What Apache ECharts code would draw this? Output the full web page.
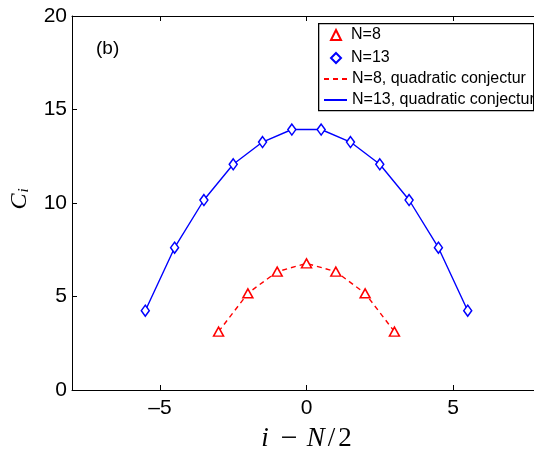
<!DOCTYPE html>
<html><head><meta charset="utf-8">
<script src="https://cdn.jsdelivr.net/npm/echarts@6/dist/echarts.min.js"></script>
<style>html,body{margin:0;padding:0;background:#fff}#c{width:534px;height:450px}</style>
</head><body><div id="c"></div>
<script>
// N=8 data (markers)
const xN8 = [-3, -2, -1, 0, 1, 2, 3];
const yN8 = [3.12, 5.17, 6.33, 6.77, 6.33, 5.17, 3.12];
// N=13 data (markers)
const xN13 = [-5.5, -4.5, -3.5, -2.5, -1.5, -0.5, 0.5, 1.5, 2.5, 3.5, 4.5, 5.5];
const yN13 = [4.24, 7.61, 10.16, 12.07, 13.26, 13.93, 13.93, 13.26, 12.07, 10.16, 7.61, 4.24];
// quadratic conjecture curves
const qN8 = [3.12, 5.17, 6.33, 6.77, 6.33, 5.17, 3.12];
const qN13 = [4.24, 7.61, 10.16, 12.07, 13.26, 13.93, 13.93, 13.26, 12.07, 10.16, 7.61, 4.24];
// ticks
const xTicks = [-5, 0, 5];
const yTicks = [0, 5, 10, 15, 20];
const markerNames = ['N=8', 'N=13'];
const lineNames = ['N=8, quadratic conjectur', 'N=13, quadratic conjectur'];

const zip = (xs, ys) => xs.map((x, i) => [x, ys[i]]);
const SANS = 'Liberation Sans, Arial, sans-serif';
const SERIF = 'Liberation Serif, Times New Roman, serif';

const chart = echarts.init(document.getElementById('c'), null, {renderer: 'canvas'});
const axisLine = {show: true, onZero: false, lineStyle: {color: '#000', width: 1}};
const fmt = v => String(v).replace('-', '\u2013');
const tickStyle = {color: '#000', width: 1};

chart.setOption({
  animation: false,
  backgroundColor: '#fff',
  grid: {left: 72, top: 16, right: -7, bottom: 60, containLabel: false, outerBoundsMode: 'none'},
  xAxis: [{
    type: 'value', min: -8, max: 8, position: 'bottom',
    axisLine, splitLine: {show: false},
    axisTick: {inside: true, length: 5, customValues: xTicks, lineStyle: tickStyle},
    axisLabel: {customValues: xTicks, color: '#000', fontSize: 21, fontFamily: SANS, margin: 8, formatter: fmt},
    name: '{i|i}{m|\u2212}{n|N}{s|/}{t|2}', nameLocation: 'middle', nameGap: 28,
    nameTextStyle: {
      rich: {
        i: {fontFamily: SERIF, fontStyle: 'italic', fontSize: 27, color: '#000'},
        m: {fontFamily: SERIF, fontSize: 30, color: '#000', padding: [0, 7, 0, 12]},
        n: {fontFamily: SERIF, fontStyle: 'italic', fontSize: 27, color: '#000', padding: [0, 0, 0, 2]},
        s: {fontFamily: SERIF, fontSize: 27, color: '#000', padding: [0, 0, 0, 3]},
        t: {fontFamily: SERIF, fontSize: 27, color: '#000', padding: [0, 0, 0, 3]}
      }
    }
  }, {
    type: 'value', min: -8, max: 8, position: 'top',
    axisLine, splitLine: {show: false},
    axisTick: {inside: true, length: 5, customValues: xTicks, lineStyle: tickStyle},
    axisLabel: {show: false}
  }],
  yAxis: [{
    type: 'value', min: 0, max: 20, interval: 5, position: 'left',
    axisLine, splitLine: {show: false},
    axisTick: {inside: true, length: 5, lineStyle: tickStyle},
    axisLabel: {color: '#000', fontSize: 21, fontFamily: SANS, margin: 5, formatter: fmt},
    name: '{c|C}{s|i}', nameLocation: 'middle', nameGap: 40, nameRotate: 90,
    nameTextStyle: {
      rich: {
        c: {fontFamily: SERIF, fontStyle: 'italic', fontSize: 24, color: '#000', padding: [0, 0, 0, 8]},
        s: {fontFamily: SERIF, fontStyle: 'italic', fontSize: 15, color: '#000', padding: [9, 0, 0, 1]}
      }
    }
  }, {
    type: 'value', min: 0, max: 20, interval: 5, position: 'right',
    axisLine, splitLine: {show: false},
    axisTick: {inside: true, length: 5, lineStyle: tickStyle},
    axisLabel: {show: false}
  }],
  legend: [{
    data: markerNames,
    orient: 'vertical', left: 330, top: 27,
    itemWidth: 10, itemHeight: 10, itemGap: 7,
    padding: 0,
    textStyle: {color: '#000', fontSize: 16, fontFamily: SANS, padding: [0, 0, 0, 5]},
    selectedMode: false
  }, {
    data: lineNames.map(n => ({name: n, itemStyle: {opacity: 0}})),
    orient: 'vertical', left: 323, top: 71,
    itemWidth: 23, itemHeight: 14, itemGap: 5,
    padding: 0,
    textStyle: {color: '#000', fontSize: 16, fontFamily: SANS},
    selectedMode: false
  }],
  graphic: [{
    type: 'rect', left: 318, top: 23, z: -1,
    shape: {width: 215, height: 87},
    style: {fill: '#fff', stroke: '#000', lineWidth: 1.3}
  }, {
    type: 'text', left: 96, top: 39,
    style: {text: '(b)', font: '19px ' + SANS, fill: '#000'}
  }],
  series: [{
    name: lineNames[0], type: 'line', data: zip(xN8, qN8),
    symbol: 'none', z: 2,
    lineStyle: {color: '#ff0000', width: 1.4, type: [5, 4]},
    itemStyle: {color: '#ff0000'}
  }, {
    name: lineNames[1], type: 'line', data: zip(xN13, qN13),
    symbol: 'none', z: 2,
    lineStyle: {color: '#0000ff', width: 1.4},
    itemStyle: {color: '#0000ff'}
  }, {
    name: markerNames[0], type: 'scatter', data: zip(xN8, yN8),
    symbol: 'triangle', symbolSize: [10, 9], z: 3,
    itemStyle: {color: '#fff', borderColor: '#ff0000', borderWidth: 1.5, opacity: 1}
  }, {
    name: markerNames[1], type: 'scatter', data: zip(xN13, yN13),
    symbol: 'diamond', symbolSize: [8, 11], z: 3,
    itemStyle: {color: '#fff', borderColor: '#0000ff', borderWidth: 1.5, opacity: 1}
  }]
});
</script>
</body></html>
